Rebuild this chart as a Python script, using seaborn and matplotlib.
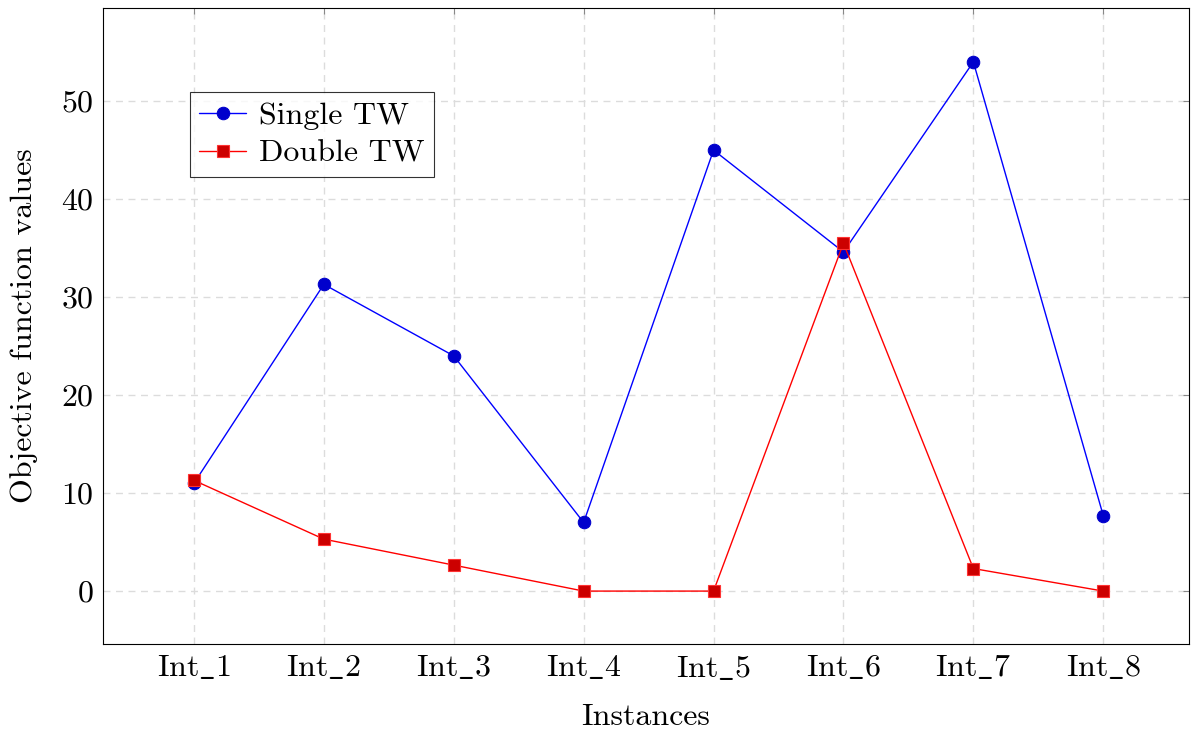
import numpy as np
import pandas as pd
import matplotlib
matplotlib.use("Agg")
import matplotlib.pyplot as plt
import seaborn as sns

# data
instances = ["Int_1", "Int_2", "Int_3", "Int_4", "Int_5", "Int_6", "Int_7", "Int_8"]
single_tw = [11.0, 31.3, 24.0, 7.0, 45.0, 34.6, 54.0, 7.7]
double_tw = [11.3, 5.3, 2.65, 0.0, 0.0, 35.5, 2.3, 0.0]

sns.set_theme(style="white")
plt.rcParams["font.family"] = ["cmr10", "DejaVu Serif"]
plt.rcParams["mathtext.fontset"] = "cm"
plt.rcParams["axes.formatter.use_mathtext"] = True
plt.rcParams["text.color"] = "black"
plt.rcParams["axes.labelcolor"] = "black"
plt.rcParams["xtick.labelcolor"] = "black"
plt.rcParams["ytick.labelcolor"] = "black"

df = pd.DataFrame({"x": np.arange(len(instances)), "single": single_tw, "double": double_tw})

fig = plt.figure(figsize=(11.92, 7.34), dpi=100)
ax = fig.add_axes([103 / 1192, 1 - 644 / 734, (1189 - 103) / 1192, (644 - 8) / 734])

sns.lineplot(data=df, x="x", y="single", ax=ax, color="blue", lw=1.0,
             marker="o", markersize=9, markerfacecolor="#0000cc",
             markeredgecolor="#0000cc", label="Single TW")
sns.lineplot(data=df, x="x", y="double", ax=ax, color="red", lw=1.0,
             marker="s", markersize=8, markerfacecolor="#cc0000",
             markeredgecolor="#ff3333", markeredgewidth=0.8, label="Double TW")

# cmr10 has no underscore glyph, so write the labels in mathtext
tick_labels = [r"$\mathrm{" + s.replace("_", r"\_") + "}$" for s in instances]

ax.set_xlim(-0.7, 7.66)
ax.set_ylim(-5.4, 59.5)
ax.set_xticks(df["x"])
ax.set_xticklabels(tick_labels)
ax.set_yticks([0, 10, 20, 30, 40, 50])
ax.grid(True, color="#dcdcdc", linestyle=(0, (5, 4)), linewidth=1.0)
ax.set_axisbelow(True)
for s in ax.spines.values():
    s.set_color("black")
    s.set_linewidth(0.8)
ax.tick_params(axis="both", labelsize=23, direction="in", length=4, color="#888888",
               width=0.8, top=True, right=True, pad=7)
ax.set_xlabel("Instances", fontsize=23, labelpad=15)
ax.set_ylabel("Objective function values", fontsize=23, labelpad=16)

leg = ax.legend(loc="upper left", bbox_to_anchor=(0.080, 0.868), fontsize=23,
                frameon=True, fancybox=False, edgecolor="black",
                handlelength=1.45, borderpad=0.3, labelspacing=0.3,
                handletextpad=0.4, borderaxespad=0)
leg.get_frame().set_linewidth(0.8)

fig.savefig("out.png", dpi=100)
